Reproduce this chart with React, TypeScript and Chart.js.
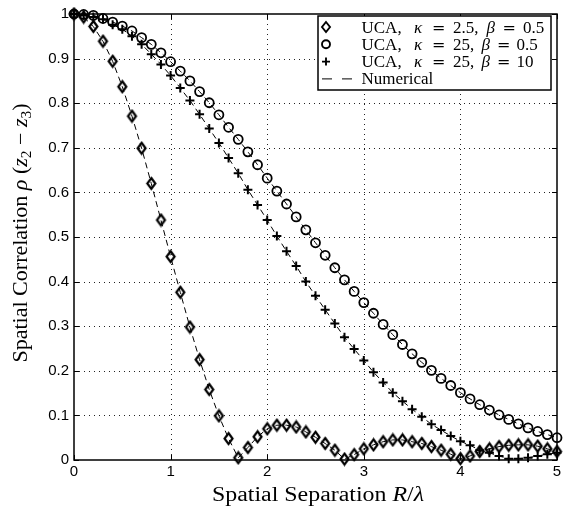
import React, { useEffect, useRef } from "react";
import { Chart, registerables } from "chart.js";

Chart.register(...registerables);

// Spatial separation R/λ
const separation = [
  0, 0.1, 0.2, 0.3, 0.4, 0.5, 0.6, 0.7, 0.8, 0.9,
  1.0, 1.1, 1.2, 1.3, 1.4, 1.5, 1.6, 1.7, 1.8, 1.9,
  2.0, 2.1, 2.2, 2.3, 2.4, 2.5, 2.6, 2.7, 2.8, 2.9,
  3.0, 3.1, 3.2, 3.3, 3.4, 3.5, 3.6, 3.7, 3.8, 3.9,
  4.0, 4.1, 4.2, 4.3, 4.4, 4.5, 4.6, 4.7, 4.8, 4.9, 5.0,
];

// UCA, kappa = 2.5, beta = 0.5 (diamonds)
const ucaK2p5B0p5 = [
  1.0, 0.993, 0.972, 0.939, 0.894, 0.837, 0.771, 0.699, 0.62, 0.538,
  0.456, 0.376, 0.298, 0.225, 0.158, 0.099, 0.048, 0.005, 0.028, 0.052,
  0.07, 0.078, 0.078, 0.074, 0.063, 0.051, 0.037, 0.022, 0.002, 0.012,
  0.025, 0.034, 0.041, 0.045, 0.045, 0.041, 0.037, 0.03, 0.022, 0.013,
  0.003, 0.009, 0.019, 0.025, 0.03, 0.033, 0.034, 0.034, 0.031, 0.025, 0.019,
];

// UCA, kappa = 25, beta = 0.5 (circles)
const ucaK25B0p5 = [
  1.0, 0.999, 0.997, 0.99, 0.982, 0.973, 0.962, 0.947, 0.932, 0.913,
  0.893, 0.872, 0.85, 0.826, 0.801, 0.774, 0.746, 0.719, 0.691, 0.662,
  0.632, 0.603, 0.574, 0.545, 0.516, 0.487, 0.459, 0.431, 0.404, 0.378,
  0.353, 0.329, 0.304, 0.281, 0.259, 0.238, 0.219, 0.201, 0.183, 0.167,
  0.151, 0.137, 0.124, 0.112, 0.101, 0.091, 0.081, 0.072, 0.064, 0.057, 0.05,
];

// UCA, kappa = 25, beta = 10 (plus)
const ucaK25B10 = [
  1.0, 0.997, 0.993, 0.988, 0.976, 0.966, 0.95, 0.932, 0.91, 0.887,
  0.862, 0.834, 0.806, 0.775, 0.743, 0.711, 0.677, 0.643, 0.606, 0.572,
  0.538, 0.502, 0.468, 0.435, 0.4, 0.368, 0.337, 0.306, 0.275, 0.249,
  0.223, 0.197, 0.174, 0.151, 0.132, 0.114, 0.097, 0.08, 0.067, 0.054,
  0.042, 0.033, 0.022, 0.016, 0.009, 0.003, 0.003, 0.005, 0.009, 0.013, 0.016,
];

const xTicks = [0, 1, 2, 3, 4, 5];
const yTicks = [0, 0.1, 0.2, 0.3, 0.4, 0.5, 0.6, 0.7, 0.8, 0.9, 1];

// Legend labels: pieces of "UCA, κ = 2.5, β = 0.5" etc.
const legendKappa = ["2.5", "25", "25"];
const legendBeta = ["0.5", "0.5", "10"];
const legendNumerical = "Numerical";

type Seg = { t: string; it?: boolean; sub?: boolean; eq?: boolean };

const xTitle: Seg[] = [{ t: "Spatial Separation " }, { t: "R", it: true }, { t: "/" }, { t: "λ", it: true }];
const yTitle: Seg[] = [
  { t: "Spatial Correlation " }, { t: "ρ", it: true }, { t: " (" }, { t: "z", it: true }, { t: "2", sub: true },
  { t: " − " }, { t: "z", it: true }, { t: "3", sub: true }, { t: ")" },
];

const SERIF = '"Liberation Serif", "Times New Roman", serif';
const SANS = '"Liberation Sans", Arial, sans-serif';

function segFont(s: Seg, size: number) {
  if (s.eq) return `${Math.round(size * 0.95)}px "DejaVu Sans", sans-serif`;
  const sz = s.sub ? Math.round(size * 0.7) : size;
  return `${s.it ? "italic " : ""}${sz}px ${SERIF}`;
}
function richWidth(ctx: CanvasRenderingContext2D, segs: Seg[], size: number) {
  let w = 0;
  for (const s of segs) {
    ctx.font = segFont(s, size);
    w += ctx.measureText(s.t).width;
  }
  return w;
}
// draws centered at (0,0) baseline, stretched to target width
function drawRichFit(ctx: CanvasRenderingContext2D, segs: Seg[], size: number, target: number) {
  const w = richWidth(ctx, segs, size);
  ctx.save();
  ctx.scale(target / w, 1);
  let cx = -w / 2;
  ctx.textAlign = "left";
  ctx.textBaseline = "alphabetic";
  for (const s of segs) {
    ctx.font = segFont(s, size);
    ctx.fillText(s.t, cx, s.sub ? size * 0.22 : 0);
    cx += ctx.measureText(s.t).width;
  }
  ctx.restore();
}

function drawMarker(ctx: CanvasRenderingContext2D, kind: string, x: number, y: number) {
  ctx.save();
  ctx.strokeStyle = "#000";
  ctx.lineWidth = 1.9;
  ctx.beginPath();
  if (kind === "diamond") {
    ctx.moveTo(x, y - 5); ctx.lineTo(x + 4, y); ctx.lineTo(x, y + 5); ctx.lineTo(x - 4, y); ctx.closePath();
  } else if (kind === "circle") {
    ctx.arc(x, y, 4, 0, Math.PI * 2);
  } else if (kind === "plus") {
    ctx.moveTo(x - 4, y); ctx.lineTo(x + 4, y); ctx.moveTo(x, y - 4); ctx.lineTo(x, y + 4);
  } else {
    ctx.lineWidth = 1;
    ctx.setLineDash([10, 10]);
    ctx.moveTo(x - 4, y); ctx.lineTo(x + 28, y);
  }
  ctx.stroke();
  ctx.restore();
}

const framePlugin = {
  id: "matlabFrame",
  beforeDatasetsDraw(chart: any) {
    const { ctx, chartArea: a, scales } = chart;
    ctx.save();
    ctx.strokeStyle = "#222";
    ctx.lineWidth = 1;
    ctx.setLineDash([1, 4]);
    for (const v of xTicks) {
      if (v === xTicks[0] || v === xTicks[xTicks.length - 1]) continue;
      const px = Math.round(scales.x.getPixelForValue(v)) + 0.5;
      ctx.beginPath(); ctx.moveTo(px, a.top); ctx.lineTo(px, a.bottom); ctx.stroke();
    }
    for (const v of yTicks) {
      if (v === yTicks[0] || v === yTicks[yTicks.length - 1]) continue;
      const py = Math.round(scales.y.getPixelForValue(v)) + 0.5;
      ctx.beginPath(); ctx.moveTo(a.left, py); ctx.lineTo(a.right, py); ctx.stroke();
    }
    ctx.restore();
  },
  afterDraw(chart: any) {
    const { ctx, chartArea: a, scales } = chart;
    ctx.save();
    ctx.strokeStyle = "#000";
    ctx.fillStyle = "#000";
    ctx.lineWidth = 1.5;
    ctx.setLineDash([]);
    ctx.strokeRect(a.left, a.top, a.right - a.left, a.bottom - a.top);
    ctx.lineWidth = 1;
    const tl = 5;
    for (const v of xTicks) {
      const px = Math.round(scales.x.getPixelForValue(v)) + 0.5;
      ctx.beginPath();
      ctx.moveTo(px, a.bottom); ctx.lineTo(px, a.bottom - tl);
      ctx.moveTo(px, a.top); ctx.lineTo(px, a.top + tl);
      ctx.stroke();
    }
    for (const v of yTicks) {
      const py = Math.round(scales.y.getPixelForValue(v)) + 0.5;
      ctx.beginPath();
      ctx.moveTo(a.left, py); ctx.lineTo(a.left + tl, py);
      ctx.moveTo(a.right, py); ctx.lineTo(a.right - tl, py);
      ctx.stroke();
    }
    // axis titles
    ctx.save();
    ctx.translate(318, 501);
    drawRichFit(ctx, xTitle, 20, 212);
    ctx.restore();
    ctx.save();
    ctx.translate(27, 233);
    ctx.rotate(-Math.PI / 2);
    drawRichFit(ctx, yTitle, 20, 259);
    ctx.restore();

    // legend
    const lx = 318, ly = 16, lw = 233, lh = 74;
    ctx.fillStyle = "#fff";
    ctx.fillRect(lx, ly, lw, lh);
    ctx.strokeStyle = "#000";
    ctx.lineWidth = 1.5;
    ctx.strokeRect(lx, ly, lw, lh);
    ctx.fillStyle = "#000";
    ctx.textAlign = "left";
    ctx.textBaseline = "alphabetic";
    const markers = ["diamond", "circle", "plus"];
    const size = 17;
    const put = (s: Seg, x: number, y: number) => {
      ctx.font = segFont(s, size);
      ctx.fillText(s.t, x, y);
    };
    for (let i = 0; i < 3; i++) {
      const cy = ly + 11 + i * 17.3;
      const by = cy + 5.5;
      drawMarker(ctx, markers[i], 326, cy);
      const wide = legendKappa[i].length > 2;
      put({ t: "UCA," }, 361.5, by);
      put({ t: "κ", it: true }, 414, by);
      put({ t: "=", eq: true }, 432, by);
      put({ t: legendKappa[i] + "," }, 453, by);
      put({ t: "β", it: true }, wide ? 486.5 : 481.5, by);
      put({ t: "=", eq: true }, wide ? 502.5 : 497, by);
      put({ t: legendBeta[i] }, wide ? 523 : 516.5, by);
    }
    const cy4 = ly + 11 + 3 * 17.3;
    drawMarker(ctx, "dash", 326, cy4);
    put({ t: legendNumerical }, 361.5, cy4 + 5.5);
    ctx.restore();
  },
};

function diamondCanvas() {
  const c = document.createElement("canvas");
  c.width = 13; c.height = 15;
  const g = c.getContext("2d")!;
  g.strokeStyle = "#000";
  g.lineWidth = 2.2;
  g.beginPath();
  g.moveTo(6.5, 2); g.lineTo(10.5, 7.5); g.lineTo(6.5, 13); g.lineTo(2.5, 7.5); g.closePath();
  g.stroke();
  return c;
}

function mk(values: number[], style: any, radius: number, width: number) {
  return {
    data: separation.map((x, i) => ({ x, y: values[i] })),
    borderColor: "#000",
    borderWidth: 1,
    borderDash: [6, 4],
    pointStyle: style,
    pointRadius: radius,
    pointBorderWidth: width,
    pointBorderColor: "#000",
    pointBackgroundColor: "rgba(0,0,0,0)",
    tension: 0,
    fill: false,
    clip: false,
  };
}

export default function App() {
  const ref = useRef<HTMLCanvasElement>(null);
  useEffect(() => {
    if (!ref.current) return;
    const chart = new Chart(ref.current, {
      type: "line",
      data: {
        datasets: [
          mk(ucaK2p5B0p5, diamondCanvas(), 5, 1.8),
          mk(ucaK25B0p5, "circle", 4.5, 1.8),
          mk(ucaK25B10, "cross", 4.5, 2),
        ] as any,
      },
      options: {
        animation: false,
        responsive: true,
        maintainAspectRatio: false,
        layout: { padding: { top: 12, right: 14, left: 0, bottom: 0 } },
        plugins: { legend: { display: false }, tooltip: { enabled: false } },
        scales: {
          x: {
            type: "linear",
            min: 0,
            max: 5,
            grid: { display: false, drawTicks: false },
            border: { display: false },
            ticks: { stepSize: 1, color: "#000", padding: 3, font: { family: SANS, size: 15 } },
            afterFit: (s: any) => { s.height = 52; },
          },
          y: {
            type: "linear",
            min: 0,
            max: 1,
            grid: { display: false, drawTicks: false },
            border: { display: false },
            ticks: {
              stepSize: 0.1,
              color: "#000",
              padding: 5,
              font: { family: SANS, size: 15 },
              callback: (v: any) => (v === 0 ? "0" : v === 1 ? "1" : Number(v).toFixed(1)),
            },
            afterFit: (s: any) => { s.width = 74; },
          },
        },
      },
      plugins: [framePlugin],
    });
    return () => chart.destroy();
  }, []);
  return (
    <div style={{ position: "fixed", left: 0, top: 0, width: 571, height: 512, background: "#fff" }}>
      <canvas ref={ref} />
    </div>
  );
}
